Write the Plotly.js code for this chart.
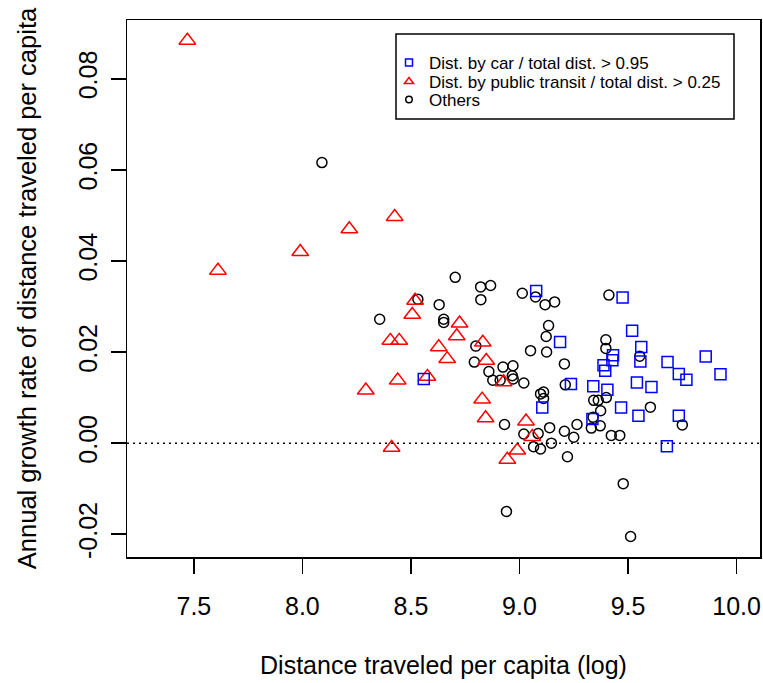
<!DOCTYPE html>
<html>
<head>
<meta charset="utf-8">
<script src="https://cdn.plot.ly/plotly-3.0.1.min.js"></script>
<style>html,body{margin:0;padding:0;background:#fff;}#chart{width:763px;height:683px;}</style>
</head>
<body>
<div id="chart"></div>
<script>
// ---- Data ----
// Dist. by car / total dist. > 0.95
var carX = [8.559, 9.077, 9.105, 9.475, 9.519, 9.187, 9.561, 9.431, 9.428, 9.557, 9.387, 9.395, 9.237, 9.340,
            9.405, 9.541, 9.608, 9.468, 9.548, 9.336, 9.682, 9.734, 9.769, 9.858, 9.926, 9.734, 9.679];
var carY = [0.0141, 0.0334, 0.0078, 0.0320, 0.0247, 0.0222, 0.0211, 0.0193, 0.0182, 0.0179, 0.0171, 0.0159, 0.0130, 0.0125,
            0.0117, 0.0133, 0.0123, 0.0078, 0.0060, 0.0053, 0.0178, 0.0152, 0.0139, 0.0190, 0.0151, 0.0060, -0.0007];

// Dist. by public transit / total dist. > 0.25
var transitX = [7.470, 7.611, 7.990, 8.216, 8.425, 8.519, 8.506, 8.724, 8.711, 8.405, 8.446, 8.628, 8.667,
                8.831, 8.847, 8.576, 8.439, 8.292, 8.927, 8.828, 8.844, 8.411, 9.030, 9.059, 8.990, 8.944];
var transitY = [0.0884, 0.0379, 0.0420, 0.0470, 0.0497, 0.0313, 0.0282, 0.0263, 0.0235, 0.0225, 0.0225, 0.0211, 0.0185,
                0.0221, 0.0181, 0.0146, 0.0138, 0.0116, 0.0134, 0.0096, 0.0055, -0.0010, 0.0048, 0.0014, -0.0016, -0.0036];

// Others
var otherX = [8.090, 8.704, 8.821, 8.867, 8.822, 9.013, 9.074, 9.118, 9.162, 8.532, 8.630, 8.356, 8.651, 8.651,
              8.799, 8.792, 8.859, 8.924, 8.970, 8.967, 8.971, 8.877, 8.911, 9.020, 9.051, 9.125, 9.134, 9.123,
              9.097, 9.111, 9.111, 8.931, 9.020, 9.086, 9.065, 9.097, 9.147, 9.207, 9.211, 9.139, 9.207, 9.250,
              9.265, 9.331, 9.372, 9.423, 9.462, 9.221, 9.412, 9.398, 9.398, 9.554, 9.400, 9.342, 9.363, 9.374,
              9.603, 9.339, 9.750, 8.940, 9.512, 9.478];
var otherY = [0.0616, 0.0364, 0.0343, 0.0346, 0.0315, 0.0329, 0.0321, 0.0304, 0.0310, 0.0316, 0.0304, 0.0272, 0.0272, 0.0265,
              0.0213, 0.0178, 0.0157, 0.0167, 0.0170, 0.0148, 0.0141, 0.0138, 0.0138, 0.0132, 0.0203, 0.0200, 0.0258, 0.0234,
              0.0108, 0.0112, 0.0098, 0.0041, 0.0020, 0.0021, -0.0008, -0.0013, 0.0000, 0.0174, 0.0128, 0.0034, 0.0026, 0.0013,
              0.0041, 0.0033, 0.0038, 0.0017, 0.0017, -0.0030, 0.0325, 0.0227, 0.0208, 0.0191, 0.0100, 0.0094, 0.0094, 0.0071,
              0.0079, 0.0057, 0.0040, -0.0150, -0.0205, -0.0089];

var seriesNames = ['Dist. by car / total dist. > 0.95',
                   'Dist. by public transit / total dist. > 0.25',
                   'Others'];

var xTickVals = [7.5, 8.0, 8.5, 9.0, 9.5, 10.0];
var xTickText = ['7.5', '8.0', '8.5', '9.0', '9.5', '10.0'];
var yTickVals = [-0.02, 0.00, 0.02, 0.04, 0.06, 0.08];
var yTickText = ['-0.02', '0.00', '0.02', '0.04', '0.06', '0.08'];

var xTitle = 'Distance traveled per capita (log)';
var yTitle = 'Annual growth rate of distance traveled per capita';

// ---- Styling ----
var FONT = 'Liberation Sans, Arial, Helvetica, sans-serif';
var LW = 1.5;

function pts(x, y, symbol, color, size) {
  return {
    type: 'scatter', mode: 'markers', x: x, y: y, showlegend: false, hoverinfo: 'x+y',
    marker: { symbol: symbol, size: size, color: color, line: { color: color, width: LW } }
  };
}
function legendItem(name, symbol, color, size, legendId) {
  return {
    type: 'scatter', mode: 'markers', x: [null], y: [null], name: name, showlegend: true,
    legend: legendId,
    marker: { symbol: symbol, size: size, color: color, line: { color: color, width: LW } }
  };
}

var data = [
  pts(otherX, otherY, 'circle-open', '#000000', 10),
  pts(transitX, transitY, 'triangle-up-open', '#FF0000', 14.5),
  pts(carX, carY, 'square-open', '#0000FF', 11),
  legendItem(seriesNames[0], 'square-open', '#0000FF', 7, 'legend'),
  legendItem(seriesNames[1], 'triangle-up-open', '#FF0000', 8, 'legend2'),
  legendItem(seriesNames[2], 'circle-open', '#000000', 6.5, 'legend3')
];

var L = 127, R = 3, T = 20, B = 126;
var W = 763, H = 683;
var pw = W - L - R, ph = H - T - B;
function px2x(px) { return (px - L) / pw; }
function py2y(py) { return (H - B - py) / ph; }

function legendAt(rowY) {
  return {
    x: px2x(389), xanchor: 'left',
    y: py2y(rowY), yanchor: 'middle',
    bgcolor: 'rgba(0,0,0,0)', borderwidth: 0,
    font: { family: FONT, size: 17, color: '#000' },
    itemwidth: 30
  };
}

var layout = {
  width: W, height: H,
  margin: { l: L, r: R, t: T, b: B, pad: 0 },
  paper_bgcolor: '#ffffff', plot_bgcolor: '#ffffff',
  font: { family: FONT, color: '#000000' },
  showlegend: true,
  xaxis: {
    range: [7.192, 10.108], autorange: false,
    tickmode: 'array', tickvals: xTickVals, ticktext: xTickText,
    ticks: 'outside', ticklen: 15, tickwidth: LW, tickcolor: '#000',
    ticklabelstandoff: 11,
    tickfont: { family: FONT, size: 25, color: '#000' },
    showgrid: false, zeroline: false,
    showline: true, mirror: true, linecolor: '#000', linewidth: LW,
    title: { text: xTitle, font: { family: FONT, size: 25, color: '#000' }, standoff: 38 }
  },
  yaxis: {
    range: [-0.0250, 0.0929], autorange: false,
    tickmode: 'array', tickvals: yTickVals, ticktext: yTickText,
    tickangle: -90,
    ticks: 'outside', ticklen: 15, tickwidth: LW, tickcolor: '#000',
    ticklabelstandoff: 4,
    tickfont: { family: FONT, size: 25, color: '#000' },
    showgrid: false, zeroline: false,
    showline: true, mirror: true, linecolor: '#000', linewidth: LW,
    title: { text: yTitle, font: { family: FONT, size: 25.5, color: '#000' }, standoff: 29 }
  },
  legend: legendAt(63),
  legend2: legendAt(82),
  legend3: legendAt(100),
  shapes: [
    { type: 'line', xref: 'paper', yref: 'y', x0: 0, x1: 1, y0: 0, y1: 0,
      line: { color: '#000', width: LW, dash: '2px,4px' } },
    { type: 'rect', xref: 'paper', yref: 'paper',
      x0: px2x(396), x1: px2x(734), y0: py2y(119), y1: py2y(34),
      line: { color: '#000', width: LW }, fillcolor: 'rgba(0,0,0,0)' }
  ]
};

Plotly.newPlot('chart', data, layout, { displayModeBar: false, staticPlot: true });
</script>
</body>
</html>
